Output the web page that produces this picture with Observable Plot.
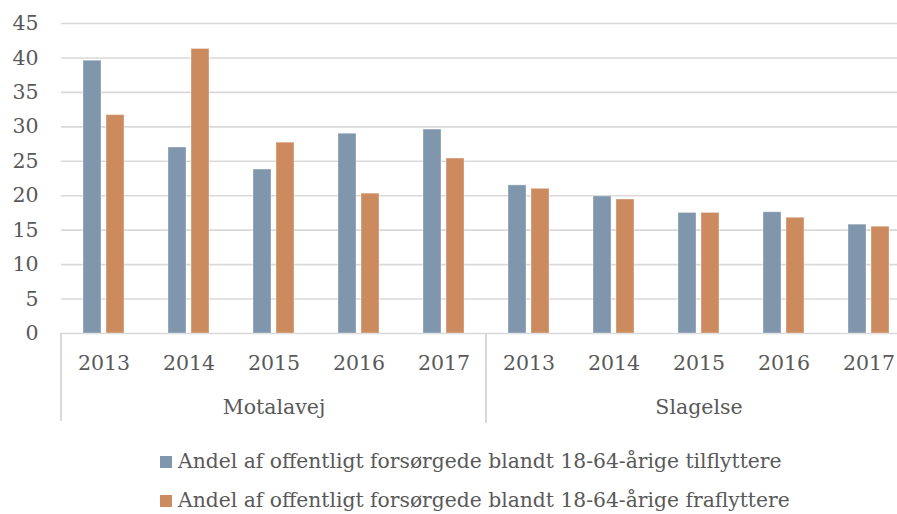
<!DOCTYPE html>
<html><head><meta charset="utf-8">
<script src="https://cdn.jsdelivr.net/npm/d3@7"></script>
<script src="https://cdn.jsdelivr.net/npm/@observablehq/plot@0.6"></script>
<style>
body{margin:0;background:#fff;overflow:hidden}
#wrap{width:897px;height:514px;overflow:hidden;position:relative;background:#fff}
#chart{position:absolute;left:0;top:0;width:912px}
#chart svg{max-width:none}
.legend{position:absolute;left:160px;font-family:"DejaVu Serif",serif;font-size:20.3px;color:#595959;white-space:nowrap;line-height:24px}
.legend span.sw{display:inline-block;width:12px;height:12px;margin-right:6px;vertical-align:0px}
</style></head>
<body><div id="wrap"><div id="chart"></div>
<div class="legend" id="lg0" style="top:449px"></div>
<div class="legend" id="lg1" style="top:488px"></div>
</div>
<script>
const groups = ["Motalavej", "Slagelse"];
const years = ["2013", "2014", "2015", "2016", "2017"];
const seriesNames = [
  "Andel af offentligt forsørgede blandt 18-64-årige tilflyttere",
  "Andel af offentligt forsørgede blandt 18-64-årige fraflyttere"
];
const tilflyttere = [39.6, 27.0, 23.8, 29.0, 29.6, 21.5, 19.9, 17.5, 17.6, 15.8];
const fraflyttere = [31.7, 41.3, 27.7, 20.3, 25.4, 21.0, 19.45, 17.5, 16.8, 15.5];
const yTicks = [0, 5, 10, 15, 20, 25, 30, 35, 40, 45];
const colors = ["#7f96ad", "#cc8b5e"];

const keys = [];
const rows = [];
groups.forEach((g, gi) => years.forEach((yr, yi) => {
  const key = g + "|" + yr;
  keys.push(key);
  const i = gi * years.length + yi;
  rows.push({key, series: seriesNames[0], value: tilflyttere[i]});
  rows.push({key, series: seriesNames[1], value: fraflyttere[i]});
}));
const groupLabels = groups.map(g => ({key: g + "|" + years[2], label: g}));

const font = "'DejaVu Serif', serif";
const fs = 20.5;
const chart = Plot.plot({
  width: 912, height: 430,
  marginTop: 23, marginBottom: 97, marginLeft: 60, marginRight: 0,
  style: {fontFamily: font, fontSize: fs + "px", color: "#595959", background: "white", overflow: "visible"},
  fx: {domain: keys, paddingInner: 0, paddingOuter: 0, label: null, axis: null},
  x: {domain: seriesNames, paddingInner: 0.21, paddingOuter: 0.88, axis: null},
  y: {domain: [0, 45], label: null, axis: null},
  color: {domain: seriesNames, range: colors},
  marks: [
    Plot.gridY(yTicks, {stroke: "#d9d9d9", strokeOpacity: 1, strokeWidth: 1.6}),
    Plot.axisY(yTicks, {tickSize: 0, tickPadding: 23, fill: "#595959", fontSize: fs, label: null}),
    Plot.barY(rows, {fx: "key", x: "series", y: "value", fill: "series", stroke: "white", strokeOpacity: 0.35, strokeWidth: 1}),
    Plot.axisFx({anchor: "bottom", tickSize: 0, tickPadding: 22, fill: "#595959", fontSize: fs, tickFormat: d => d.split("|")[1], label: null}),
    Plot.text(groupLabels, {fx: "key", text: "label", frameAnchor: "bottom", dy: 80, fill: "#595959", fontSize: fs})
  ]
});
document.getElementById("chart").appendChild(chart);

// group dividers drawn from the fx scale
const fx = chart.scale("fx");
const y = chart.scale("y");
const svg = d3.select(chart);
const y0 = y.apply(0);
groups.forEach((g, gi) => {
  const xPos = fx.apply(g + "|" + years[0]);
  svg.append("line")
    .attr("x1", xPos).attr("x2", xPos)
    .attr("y1", y0).attr("y2", y0 + 88 + gi * 2)
    .attr("stroke", "#d0d0d0").attr("stroke-width", 1.6);
});

seriesNames.forEach((s, i) => {
  const el = document.getElementById("lg" + i);
  el.innerHTML = `<span class="sw" style="background:${colors[i]}"></span>${s}`;
});
</script>
</body></html>
